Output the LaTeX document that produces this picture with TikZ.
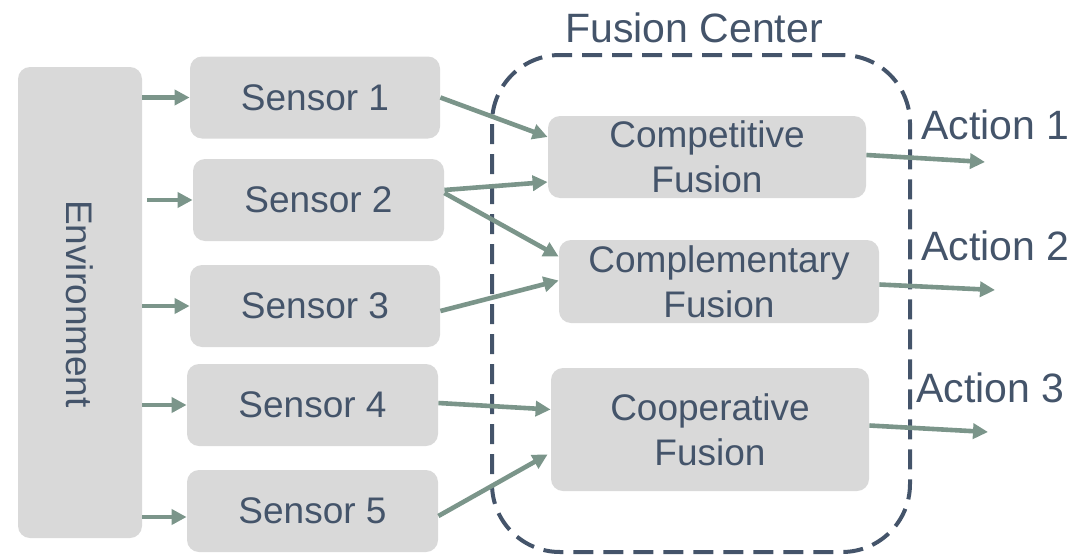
\documentclass[tikz,border=0pt]{standalone}
\usepackage{fontspec}
\setmainfont{Liberation Sans}
\usetikzlibrary{arrows.meta}
\definecolor{txt}{HTML}{44546A}
\definecolor{boxfill}{HTML}{D9D9D9}
\definecolor{link}{HTML}{7B958A}
\tikzset{
  block/.style={fill=boxfill, rounded corners=6pt, text=txt, align=center,
    font=\fontsize{18.5pt}{22.5pt}\selectfont, inner sep=0pt},
  label/.style={text=txt, font=\fontsize{20.5pt}{24pt}\selectfont, inner sep=0pt},
  flow/.style={draw=link, line width=2.3pt, -{Triangle[length=7.5pt,width=7.5pt]}},
  center/.style={draw=txt, line width=2pt, dash pattern=on 10pt off 5pt,
    rounded corners=34pt, inner sep=0pt}
}
\begin{document}
\begin{tikzpicture}[x=0.5pt,y=-0.5pt]
\useasboundingbox (0,0) rectangle (1076,557);

% fusion center outline and title
\node[center, minimum width=209pt, minimum height=248.5pt] (fc) at (701,303.5) {};
\node[label, anchor=center] (fct) at (694,28) {Fusion Center};

% environment
\node[block, minimum width=62pt, minimum height=235.5pt] (env) at (80,302.5) {};
\node[text=txt, font=\fontsize{18.5pt}{22.5pt}\selectfont, rotate=-90, inner sep=0pt] (envt) at (80,304) {Environment};

% sensors
\node[block, minimum width=125pt, minimum height=41pt] (s1) at (315,97.5) {Sensor 1};
\node[block, minimum width=125.5pt, minimum height=41pt] (s2) at (318.5,200) {Sensor 2};
\node[block, minimum width=125pt, minimum height=41pt] (s3) at (315,306) {Sensor 3};
\node[block, minimum width=125.5pt, minimum height=41pt] (s4) at (312.5,405) {Sensor 4};
\node[block, minimum width=125.5pt, minimum height=41pt] (s5) at (312.5,511) {Sensor 5};

% fusion blocks
\node[block, minimum width=159pt, minimum height=41pt] (comp) at (707,157) {Competitive\\Fusion};
\node[block, minimum width=160pt, minimum height=41.5pt] (compl) at (719,281.5) {Complementary\\Fusion};
\node[block, minimum width=159pt, minimum height=61.5pt] (coop) at (710,429.5) {Cooperative\\Fusion};

% actions
\node[label, anchor=west] (a1t) at (921,125) {Action 1};
\node[label, anchor=west] (a2t) at (921,246) {Action 2};
\node[label, anchor=west] (a3t) at (916,388) {Action 3};
\coordinate (a1) at (985,162);
\coordinate (a2) at (995,290);
\coordinate (a3) at (988,432);

% environment to sensors
\draw[flow] (env.east |- s1.west) -- (s1.west);
\draw[flow] ([xshift=2.5pt]env.east |- s2.west) -- (s2.west);
\draw[flow] (env.east |- s3.west) -- (s3.west);
\draw[flow] (env.east |- s4.west) -- (s4.west);
\draw[flow] ([yshift=-3pt]env.east |- s5.west) -- ([yshift=-3pt]s5.west);

% sensors to fusion
\draw[flow] (s1.east) -- ([yshift=10pt]comp.west);
\draw[flow] ([yshift=5pt]s2.east) -- ([yshift=-12.5pt]comp.west);
\draw[flow] ([yshift=3.5pt]s2.east) -- ([yshift=12.5pt]compl.west);
\draw[flow] ([yshift=-2.5pt]s3.east) -- ([yshift=0.5pt]compl.west);
\draw[flow] ([yshift=1pt]s4.east) -- ([yshift=10pt]coop.west);
\draw[flow] ([yshift=-2.5pt]s5.east) -- ([xshift=-1.5pt,yshift=-12.5pt]coop.west);

% fusion to actions
\draw[flow] ([yshift=1pt]comp.east) -- (a1);
\draw[flow] ([yshift=-1.5pt]compl.east) -- (a2);
\draw[flow] ([yshift=2pt]coop.east) -- (a3);
\end{tikzpicture}
\end{document}
